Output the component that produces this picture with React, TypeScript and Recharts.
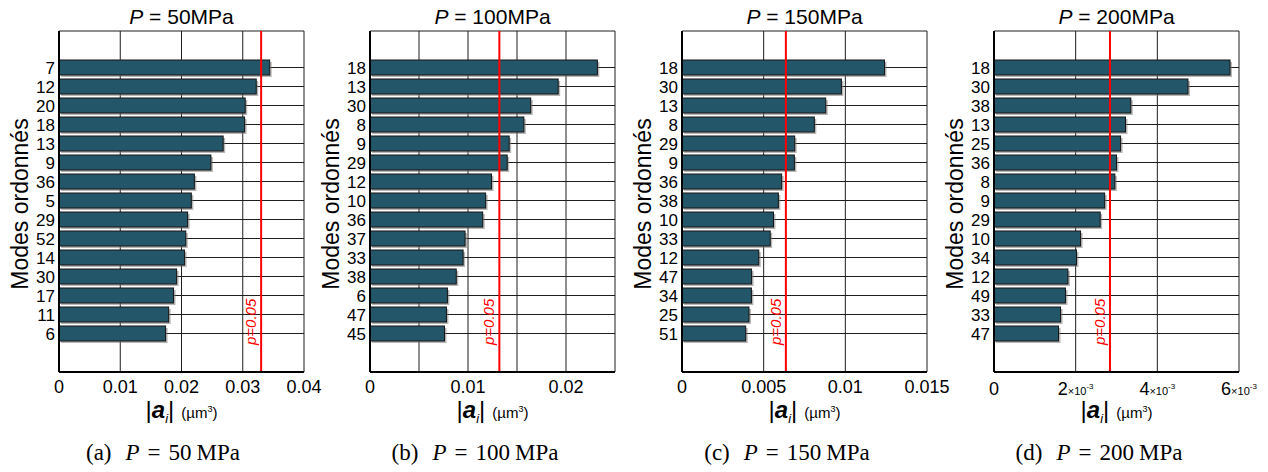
import React from 'react';
import {
  BarChart,
  Bar,
  XAxis,
  YAxis,
  CartesianGrid,
  ReferenceLine,
} from 'recharts';

// mode numbers (sorted by amplitude) and |a_i| in µm³ for each pressure
const modes50 = ['7', '12', '20', '18', '13', '9', '36', '5', '29', '52', '14', '30', '17', '11', '6'];
const amp50 = [0.0344, 0.0322, 0.0304, 0.0303, 0.0268, 0.0248, 0.0221, 0.0216, 0.021, 0.0207, 0.0205, 0.0192, 0.0187, 0.0179, 0.0174];

const modes100 = ['18', '13', '30', '8', '9', '29', '12', '10', '36', '37', '33', '38', '6', '47', '45'];
const amp100 = [0.0232, 0.0192, 0.0164, 0.0157, 0.0142, 0.014, 0.0124, 0.0118, 0.0115, 0.0097, 0.0095, 0.0088, 0.0079, 0.0078, 0.0076];

const modes150 = ['18', '30', '13', '8', '29', '9', '36', '38', '10', '33', '12', '47', '34', '25', '51'];
const amp150 = [0.0124, 0.00976, 0.0088, 0.0081, 0.0069, 0.00688, 0.0061, 0.0059, 0.0056, 0.0054, 0.0047, 0.00426, 0.00425, 0.0041, 0.0039];

const modes200 = ['18', '30', '38', '13', '25', '36', '8', '9', '29', '10', '34', '12', '49', '33', '47'];
const amp200 = [0.00578, 0.00475, 0.00335, 0.00322, 0.0031, 0.003, 0.00296, 0.00271, 0.0026, 0.00212, 0.00202, 0.00181, 0.00175, 0.00163, 0.00158];

// significance threshold p=0.05
const pThreshold = [0.033, 0.0132, 0.00636, 0.00284];

const ticks50 = [0, 0.01, 0.02, 0.03, 0.04];
const ticks100 = [0, 0.005, 0.01, 0.015, 0.02, 0.025];
const ticks150 = [0, 0.005, 0.01, 0.015];
const ticks200 = [0, 0.002, 0.004, 0.006];

const pressures = [50, 100, 150, 200];
const letters = ['a', 'b', 'c', 'd'];

const SANS = '"Liberation Sans", Arial, sans-serif';
const SERIF = '"Liberation Serif", "DejaVu Serif", serif';
const BAR_FILL = '#24566a';

const PLOT_LEFT = [59, 370, 682, 994];
const PLOT_W = 245;
const AXIS_W = 50;
const CHART_H = 400;
const CAPTION_X = [163, 475, 787, 1099];

const BarShape = (props: any) => {
  const { x, y, width, height } = props;
  if (width == null || width <= 0) return null;
  return (
    <g>
      <rect x={x + 2} y={y + 2} width={width} height={height} fill="#7a7a7a" opacity={0.55} />
      <rect x={x} y={y} width={width} height={height} fill={BAR_FILL} stroke="#151515" strokeWidth={1} />
    </g>
  );
};

const PLabel = (props: any) => {
  const vb = props.viewBox || {};
  const x = vb.x - 5;
  const y = vb.y + vb.height - 27;
  return (
    <text
      x={x}
      y={y}
      transform={`rotate(-90, ${x}, ${y})`}
      fill="#ff0000"
      fontSize={15}
      fontStyle="italic"
      fontFamily={SANS}
      textAnchor="start"
    >
      p=0.05
    </text>
  );
};

const SciTick = (props: any) => {
  const { x, y, payload } = props;
  const v = payload.value;
  if (v === 0) {
    return (
      <text x={x} y={y} dy={15} textAnchor="middle" fontSize={18} fill="#000" fontFamily={SANS}>
        0
      </text>
    );
  }
  const m = Math.round(v / 1e-3);
  return (
    <text x={x} y={y} dy={15} textAnchor="middle" fill="#000" fontFamily={SANS}>
      <tspan fontSize={18}>{m}</tspan>
      <tspan fontSize={11}>×10</tspan>
      <tspan fontSize={8} dy={-6}>-3</tspan>
    </text>
  );
};

interface PanelProps {
  index: number;
  modes: string[];
  amps: number[];
  ticks: number[];
  labelled: number[];
  sci?: boolean;
}

const Panel = ({ index, modes, amps, ticks, labelled, sci }: PanelProps) => {
  const data = modes.map((m, i) => ({ mode: m, amp: amps[i] }));
  const max = ticks[ticks.length - 1];
  const left = PLOT_LEFT[index];
  const cx = left + PLOT_W / 2;

  return (
    <>
      <div
        style={{
          position: 'absolute',
          left: cx,
          top: 5,
          transform: 'translateX(-50%)',
          fontFamily: SANS,
          fontSize: 21,
          whiteSpace: 'nowrap',
          lineHeight: '24px',
        }}
      >
        <i>P</i> = {pressures[index]}MPa
      </div>

      <div
        style={{
          position: 'absolute',
          left: left - 39,
          top: 204,
          transform: 'translate(-50%, -50%) rotate(-90deg)',
          fontFamily: SANS,
          fontSize: 23,
          whiteSpace: 'nowrap',
        }}
      >
        Modes ordonnés
      </div>

      <div style={{ position: 'absolute', left: left - AXIS_W, top: 0 }}>
        <BarChart
          width={AXIS_W + PLOT_W + 25}
          height={CHART_H}
          data={data}
          layout="vertical"
          margin={{ top: 31, right: 25, bottom: 0, left: 0 }}
          barSize={15}
        >
          <CartesianGrid stroke="#1e1e1e" strokeWidth={1} />
          <XAxis
            type="number"
            domain={[0, max]}
            ticks={ticks}
            interval={0}
            allowDataOverflow
            tickLine={false}
            tickSize={6}
            tickMargin={2}
            height={28}
            axisLine={{ stroke: '#000', strokeWidth: 2 }}
            tick={
              sci
                ? SciTick
                : { fontSize: 18, fill: '#000', fontFamily: SANS }
            }
            tickFormatter={(v: number) => (labelled.includes(v) ? String(v) : '')}
          />
          <XAxis
            xAxisId="top"
            orientation="top"
            type="number"
            domain={[0, max]}
            height={0}
            tick={false}
            tickLine={false}
            axisLine={{ stroke: '#000', strokeWidth: 1.5 }}
          />
          <YAxis
            type="category"
            dataKey="mode"
            width={AXIS_W}
            interval={0}
            tickLine={false}
            tickSize={2}
            tickMargin={2}
            padding={{ top: 27, bottom: 29 }}
            axisLine={{ stroke: '#000', strokeWidth: 2 }}
            tick={{ fontSize: 17, fill: '#000', fontFamily: SANS }}
          />
          <Bar dataKey="amp" isAnimationActive={false} shape={BarShape} />
          <ReferenceLine
            x={pThreshold[index]}
            stroke="#ff0000"
            strokeWidth={2}
            label={(p: any) => <PLabel {...p} />}
          />
        </BarChart>
      </div>

      <div
        style={{
          position: 'absolute',
          left: cx,
          top: 396,
          transform: 'translateX(-50%)',
          fontFamily: SANS,
          whiteSpace: 'nowrap',
        }}
      >
        <span style={{ fontSize: 24 }}>
          |<b><i>a</i></b>
          <i style={{ fontSize: 13, verticalAlign: -5 }}>i</i>|
        </span>
        <span style={{ fontSize: 15, marginLeft: 7 }}>
          (µm<sup style={{ fontSize: 9 }}>3</sup>)
        </span>
      </div>

      <div
        style={{
          position: 'absolute',
          left: CAPTION_X[index],
          top: 440,
          transform: 'translateX(-50%)',
          fontFamily: SERIF,
          fontSize: 23,
          whiteSpace: 'nowrap',
        }}
      >
        <span>({letters[index]})</span>
        <i style={{ marginLeft: 14 }}>P</i>
        <span style={{ margin: '0 8px' }}>=</span>
        <span>{pressures[index]}</span>
        <span style={{ marginLeft: 5 }}>MPa</span>
      </div>
    </>
  );
};

const App = () => {
  return (
    <div
      style={{
        position: 'absolute',
        left: 0,
        top: 0,
        width: 1268,
        height: 472,
        background: '#fff',
        overflow: 'hidden',
      }}
    >
      <Panel index={0} modes={modes50} amps={amp50} ticks={ticks50} labelled={ticks50} />
      <Panel index={1} modes={modes100} amps={amp100} ticks={ticks100} labelled={[0, 0.01, 0.02]} />
      <Panel index={2} modes={modes150} amps={amp150} ticks={ticks150} labelled={ticks150} />
      <Panel index={3} modes={modes200} amps={amp200} ticks={ticks200} labelled={ticks200} sci />
    </div>
  );
};

export default App;
